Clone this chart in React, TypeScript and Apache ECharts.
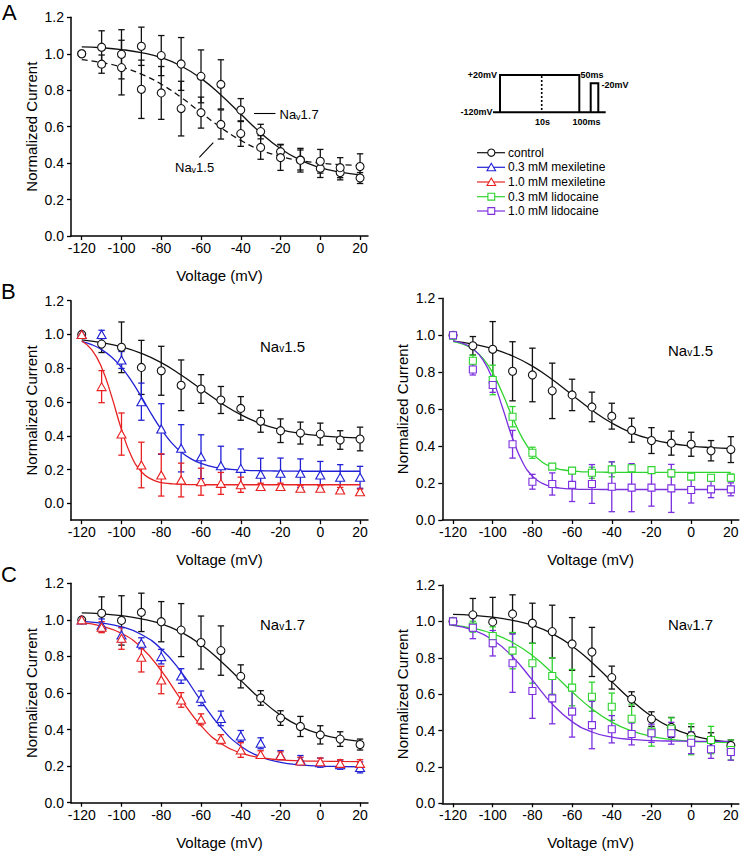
import React, { useEffect, useRef } from "react";
import * as echarts from "echarts";

const FONT = '"Liberation Sans", Arial, Helvetica, sans-serif';

// Voltages (mV)
const VOLT = [-120, -110, -100, -90, -80, -70, -60, -50, -40, -30, -20, -10, 0, 10, 20];
const VOLT5 = [-120, -115, -110, -105, -100, -95, -90, -85, -80, -75, -70, -65, -60, -55, -50, -45, -40, -35, -30, -25, -20, -15, -10, -5, 0, 5, 10, 15, 20];
const X_TICKS = [-120, -100, -80, -60, -40, -20, 0, 20];
const Y_TICKS = [0, 0.2, 0.4, 0.6, 0.8, 1.0, 1.2];

// Control Nav1.5
const nav15Ctrl = [1.0, 0.943, 0.924, 0.805, 0.785, 0.699, 0.677, 0.612, 0.562, 0.486, 0.43, 0.416, 0.41, 0.375, 0.381];
const nav15CtrlErr = [0, 0.05, 0.15, 0.16, 0.145, 0.15, 0.085, 0.08, 0.07, 0.065, 0.07, 0.065, 0.065, 0.055, 0.07];
const nav15CtrlFit = [0.968, 0.952, 0.927, 0.888, 0.833, 0.76, 0.677, 0.595, 0.525, 0.472, 0.437, 0.414, 0.4, 0.392, 0.387];

// Control Nav1.7
const nav17Ctrl = [1.0, 1.036, 0.997, 1.041, 0.99, 0.944, 0.876, 0.832, 0.691, 0.573, 0.463, 0.417, 0.371, 0.348, 0.318];
const nav17CtrlErr = [0, 0.09, 0.135, 0.105, 0.11, 0.145, 0.145, 0.135, 0.063, 0.04, 0.04, 0.055, 0.05, 0.04, 0.03];
const nav17CtrlFit = [1.038, 1.033, 1.023, 1.006, 0.979, 0.933, 0.865, 0.774, 0.669, 0.566, 0.479, 0.416, 0.375, 0.35, 0.335];

// Nav1.5 mexiletine
const mex03Nav15 = [1.0, 1.0, 0.849, 0.602, 0.44, 0.326, 0.276, 0.223, 0.207, 0.172, 0.178, 0.178, 0.168, 0.154, 0.154];
const mex03Nav15Err = [0, 0.025, 0.05, 0.11, 0.15, 0.14, 0.13, 0.115, 0.115, 0.095, 0.09, 0.085, 0.08, 0.075, 0.065];
const mex03Nav15Fit = [0.959, 0.94, 0.91, 0.866, 0.805, 0.725, 0.63, 0.53, 0.438, 0.361, 0.304, 0.263, 0.236, 0.219, 0.208, 0.201, 0.197, 0.194, 0.193, 0.192, 0.191, 0.191, 0.19, 0.19, 0.19, 0.19, 0.19, 0.19, 0.19];
const mex10Nav15 = [1.0, 0.691, 0.41, 0.227, 0.168, 0.138, 0.128, 0.118, 0.11, 0.099, 0.099, 0.089, 0.089, 0.079, 0.069];
const mex10Nav15Err = [0, 0.095, 0.125, 0.135, 0.125, 0.1, 0.08, 0.065, 0.045, 0.02, 0.02, 0.015, 0.015, 0.015, 0.015];
const mex10Nav15Fit = [0.961, 0.91, 0.805, 0.635, 0.437, 0.279, 0.187, 0.143, 0.123, 0.116, 0.112, 0.111, 0.11, 0.11, 0.11, 0.11, 0.11, 0.11, 0.11, 0.11, 0.11, 0.11, 0.11, 0.11, 0.11, 0.11, 0.11, 0.11, 0.11];

// Nav1.5 lidocaine
const lid03Nav15 = [0.998, 0.862, 0.758, 0.559, 0.364, 0.289, 0.267, 0.256, 0.274, 0.28, 0.27, 0.253, 0.235, 0.229, 0.229];
const lid03Nav15Err = [0, 0.03, 0.08, 0.055, 0.03, 0.015, 0.015, 0.03, 0.04, 0.015, 0.015, 0.02, 0.015, 0.015, 0.02];
const lid03Nav15Fit = [0.966, 0.952, 0.925, 0.876, 0.796, 0.683, 0.555, 0.442, 0.362, 0.313, 0.286, 0.272, 0.265, 0.261, 0.26, 0.259, 0.258, 0.258, 0.258, 0.258, 0.258, 0.258, 0.258, 0.258, 0.258, 0.258, 0.258, 0.258, 0.258];
const lid10Nav15 = [1.0, 0.815, 0.731, 0.41, 0.207, 0.195, 0.19, 0.195, 0.18, 0.175, 0.175, 0.171, 0.162, 0.166, 0.166];
const lid10Nav15Err = [0, 0.03, 0.04, 0.075, 0.04, 0.06, 0.09, 0.105, 0.135, 0.13, 0.1, 0.13, 0.07, 0.045, 0.035];
const lid10Nav15Fit = [0.97, 0.956, 0.927, 0.868, 0.761, 0.606, 0.442, 0.314, 0.237, 0.198, 0.18, 0.171, 0.168, 0.166, 0.166, 0.165, 0.165, 0.165, 0.165, 0.165, 0.165, 0.165, 0.165, 0.165, 0.165, 0.165, 0.165, 0.165, 0.165];

// Nav1.7 mexiletine
const mex03Nav17 = [1.0, 0.97, 0.917, 0.872, 0.799, 0.693, 0.571, 0.461, 0.365, 0.325, 0.26, 0.233, 0.219, 0.208, 0.193];
const mex03Nav17Err = [0, 0.035, 0.04, 0.03, 0.04, 0.04, 0.04, 0.04, 0.03, 0.03, 0.025, 0.025, 0.025, 0.025, 0.03];
const mex03Nav17Fit = [0.992, 0.982, 0.962, 0.92, 0.841, 0.715, 0.557, 0.412, 0.309, 0.251, 0.221, 0.207, 0.2, 0.198, 0.196];
const mex10Nav17 = [1.0, 0.96, 0.899, 0.795, 0.671, 0.562, 0.456, 0.347, 0.288, 0.264, 0.258, 0.228, 0.224, 0.215, 0.215];
const mex10Nav17Err = [0, 0.03, 0.06, 0.08, 0.075, 0.04, 0.03, 0.025, 0.04, 0.02, 0.02, 0.02, 0.02, 0.02, 0.02];
const mex10Nav17Fit = [0.985, 0.966, 0.926, 0.849, 0.722, 0.564, 0.421, 0.324, 0.272, 0.246, 0.234, 0.229, 0.227, 0.226, 0.225];

// Nav1.7 lidocaine
const lid03Nav17 = [1.0, 0.971, 0.92, 0.839, 0.77, 0.7, 0.636, 0.586, 0.531, 0.465, 0.394, 0.41, 0.352, 0.348, 0.293];
const lid03Nav17Err = [0, 0.03, 0.05, 0.1, 0.11, 0.1, 0.1, 0.08, 0.075, 0.08, 0.08, 0.06, 0.085, 0.075, 0.055];
const lid03Nav17Fit = [0.979, 0.962, 0.932, 0.884, 0.812, 0.717, 0.613, 0.519, 0.446, 0.398, 0.368, 0.351, 0.341, 0.336, 0.333];
const lid10Nav17 = [1.0, 0.965, 0.88, 0.77, 0.617, 0.577, 0.504, 0.43, 0.407, 0.381, 0.385, 0.385, 0.333, 0.297, 0.282];
const lid10Nav17Err = [0, 0.06, 0.07, 0.16, 0.15, 0.14, 0.14, 0.13, 0.075, 0.06, 0.05, 0.06, 0.06, 0.05, 0.045];
const lid10Nav17Fit = [0.978, 0.952, 0.899, 0.806, 0.677, 0.546, 0.449, 0.392, 0.364, 0.351, 0.345, 0.342, 0.341, 0.34, 0.34];

const LEGEND_NAMES = ["control", "0.3 mM mexiletine", "1.0 mM mexiletine", "0.3 mM lidocaine", "1.0 mM lidocaine"];

const BLACK = "#111111";
const BLUE = "#2121d6";
const RED = "#e82222";
const GREEN = "#2fd42f";
const PURPLE = "#7b2fdf";

const X_MIN = -125.4;
const X_MAX = 24;

function xAxisCfg(gi: number) {
  return {
    gridIndex: gi,
    type: "value",
    min: X_MIN,
    max: X_MAX,
    axisLine: { show: true, onZero: false, lineStyle: { color: "#000", width: 1.5 } },
    axisTick: { show: true, length: 4, customValues: X_TICKS, lineStyle: { color: "#000", width: 1.3 } },
    axisLabel: { customValues: X_TICKS, color: "#000", fontSize: 14, fontFamily: FONT, margin: 5 },
    splitLine: { show: false },
    name: "Voltage (mV)",
    nameLocation: "middle",
    nameGap: 32,
    nameTextStyle: { color: "#000", fontSize: 15, fontFamily: FONT },
  };
}

function yAxisCfg(gi: number, ymin: number) {
  return {
    gridIndex: gi,
    type: "value",
    min: ymin,
    max: 1.2,
    axisLine: { show: true, onZero: false, lineStyle: { color: "#000", width: 1.5 } },
    axisTick: { show: true, length: 4, customValues: Y_TICKS, lineStyle: { color: "#000", width: 1.3 } },
    axisLabel: {
      customValues: Y_TICKS,
      color: "#000",
      fontSize: 14,
      fontFamily: FONT,
      margin: 7,
      formatter: (v: number) => v.toFixed(1),
    },
    splitLine: { show: false },
    name: "Normalized Current",
    nameLocation: "middle",
    nameGap: 32,
    nameTextStyle: { color: "#000", fontSize: 15, fontFamily: FONT },
  };
}

function errSeries(gi: number, ys: number[], es: number[], color: string) {
  return {
    type: "custom",
    xAxisIndex: gi,
    yAxisIndex: gi,
    silent: true,
    z: 2,
    encode: { x: 0, y: 1 },
    data: VOLT.map((v, i) => [v, ys[i], es[i]]),
    renderItem: (params: any, api: any) => {
      const x = api.value(0);
      const y = api.value(1);
      const e = api.value(2);
      if (!e) return null;
      const top = api.coord([x, y + e]);
      const bot = api.coord([x, y - e]);
      const hw = 3.2;
      const style = { stroke: color, lineWidth: 1.3 };
      return {
        type: "group",
        children: [
          { type: "line", shape: { x1: top[0], y1: top[1], x2: bot[0], y2: bot[1] }, style },
          { type: "line", shape: { x1: top[0] - hw, y1: top[1], x2: top[0] + hw, y2: top[1] }, style },
          { type: "line", shape: { x1: bot[0] - hw, y1: bot[1], x2: bot[0] + hw, y2: bot[1] }, style },
        ],
      };
    },
  };
}

function fitSeries(gi: number, xs: number[], ys: number[], color: string, dashed = false) {
  return {
    type: "line",
    xAxisIndex: gi,
    yAxisIndex: gi,
    silent: true,
    z: 3,
    showSymbol: false,
    symbol: "none",
    smooth: 0.5,
    lineStyle: { color, width: 1.3, type: dashed ? [6, 4] : "solid" },
    data: xs.map((v, i) => [v, ys[i]]),
  };
}

function ptSeries(gi: number, ys: number[], color: string, symbol: string) {
  const size = symbol === "triangle" ? [9, 8] : symbol === "rect" ? 7 : 8;
  return {
    type: "scatter",
    xAxisIndex: gi,
    yAxisIndex: gi,
    silent: true,
    z: 4,
    symbol,
    symbolSize: size,
    itemStyle: { color: "#ffffff", borderColor: color, borderWidth: 1.1, opacity: 1 },
    data: VOLT.map((v, i) => [v, ys[i]]),
  };
}

function navLabel(x: number, y: number, suffix: string, size: number) {
  const sub = Math.round(size * 0.68);
  return {
    type: "text",
    x,
    y,
    silent: true,
    style: {
      text: `{a|Na}{s|v}{a|${suffix}}`,
      textAlign: "left",
      textVerticalAlign: "middle",
      rich: {
        a: { fontSize: size, fontFamily: FONT, fill: "#000", lineHeight: size + 2, verticalAlign: "bottom" },
        s: { fontSize: sub, fontFamily: FONT, fill: "#000", lineHeight: sub + 1, verticalAlign: "bottom" },
      },
    },
  };
}

function plainText(x: number, y: number, text: string, size: number, align = "left", bold = false) {
  return {
    type: "text",
    x,
    y,
    silent: true,
    style: {
      text,
      fontSize: size,
      fontFamily: FONT,
      fontWeight: bold ? "bold" : "normal",
      fill: "#000",
      textAlign: align,
      textVerticalAlign: "middle",
    },
  };
}

function legendItems() {
  const colors = [BLACK, BLUE, RED, GREEN, PURPLE];
  const syms = ["circle", "triangle", "triangle", "rect", "rect"];
  const rows = [152.7, 167.3, 182, 196.7, 211];
  const items: any[] = [];
  rows.forEach((cy, i) => {
    const c = colors[i];
    items.push({ type: "line", silent: true, shape: { x1: 477, y1: cy, x2: 505, y2: cy }, style: { stroke: c, lineWidth: 1.2 } });
    const cx = 491.3;
    if (syms[i] === "circle") {
      items.push({ type: "circle", silent: true, shape: { cx, cy, r: 3.6 }, style: { fill: "#fff", stroke: c, lineWidth: 1.1 } });
    } else if (syms[i] === "triangle") {
      items.push({
        type: "polygon",
        silent: true,
        shape: { points: [[cx, cy - 4], [cx - 4.3, cy + 3.5], [cx + 4.3, cy + 3.5]] },
        style: { fill: "#fff", stroke: c, lineWidth: 1.1 },
      });
    } else {
      items.push({ type: "rect", silent: true, shape: { x: cx - 3.4, y: cy - 3.4, width: 6.8, height: 6.8 }, style: { fill: "#fff", stroke: c, lineWidth: 1.1 } });
    }
    items.push(plainText(508, cy, LEGEND_NAMES[i], 12));
  });
  return items;
}

function protocolItems() {
  const s = { stroke: "#000", lineWidth: 2, fill: null };
  return [
    { type: "line", silent: true, shape: { x1: 493, y1: 112.3, x2: 605.7, y2: 112.3 }, style: s },
    { type: "polyline", silent: true, shape: { points: [[500, 112.3], [500, 75], [579.3, 75], [579.3, 112.3]] }, style: s },
    { type: "polyline", silent: true, shape: { points: [[590.7, 112.3], [590.7, 83.3], [598.3, 83.3], [598.3, 112.3]] }, style: s },
    { type: "line", silent: true, shape: { x1: 541.7, y1: 76, x2: 541.7, y2: 111.5 }, style: { stroke: "#000", lineWidth: 1.6, lineDash: [2, 2] } },
    plainText(497, 75, "+20mV", 9, "right", true),
    plainText(492.5, 112.3, "-120mV", 9, "right", true),
    plainText(580.5, 74.5, "50ms", 9, "left", true),
    plainText(601.5, 85, "-20mV", 9, "left", true),
    plainText(542.5, 121.7, "10s", 9, "center", true),
    plainText(586.5, 121.7, "100ms", 9, "center", true),
  ];
}

export default function App() {
  const ref = useRef<HTMLDivElement>(null);
  useEffect(() => {
    if (!ref.current) return;
    const chart = echarts.init(ref.current, undefined, { renderer: "svg" });
    const grids = [
      { left: 71, top: 17.3, width: 297, height: 218.7 },
      { left: 71, top: 300.7, width: 297, height: 219.5 },
      { left: 442.3, top: 298.3, width: 296.5, height: 221.7 },
      { left: 71, top: 583.3, width: 297, height: 219.4 },
      { left: 442.3, top: 585, width: 296.5, height: 218.3 },
    ];
    const yMins = [0, -0.1, 0, 0, 0];
    const series: any[] = [
      // A
      errSeries(0, nav17Ctrl, nav17CtrlErr, BLACK),
      errSeries(0, nav15Ctrl, nav15CtrlErr, BLACK),
      fitSeries(0, VOLT, nav17CtrlFit, BLACK),
      fitSeries(0, VOLT, nav15CtrlFit, BLACK, true),
      ptSeries(0, nav17Ctrl, BLACK, "circle"),
      ptSeries(0, nav15Ctrl, BLACK, "circle"),
      // B left
      errSeries(1, nav15Ctrl, nav15CtrlErr, BLACK),
      errSeries(1, mex03Nav15, mex03Nav15Err, BLUE),
      errSeries(1, mex10Nav15, mex10Nav15Err, RED),
      fitSeries(1, VOLT, nav15CtrlFit, BLACK),
      fitSeries(1, VOLT5, mex03Nav15Fit, BLUE),
      fitSeries(1, VOLT5, mex10Nav15Fit, RED),
      ptSeries(1, nav15Ctrl, BLACK, "circle"),
      ptSeries(1, mex03Nav15, BLUE, "triangle"),
      ptSeries(1, mex10Nav15, RED, "triangle"),
      // B right
      errSeries(2, nav15Ctrl, nav15CtrlErr, BLACK),
      errSeries(2, lid03Nav15, lid03Nav15Err, GREEN),
      errSeries(2, lid10Nav15, lid10Nav15Err, PURPLE),
      fitSeries(2, VOLT, nav15CtrlFit, BLACK),
      fitSeries(2, VOLT5, lid03Nav15Fit, GREEN),
      fitSeries(2, VOLT5, lid10Nav15Fit, PURPLE),
      ptSeries(2, nav15Ctrl, BLACK, "circle"),
      ptSeries(2, lid03Nav15, GREEN, "rect"),
      ptSeries(2, lid10Nav15, PURPLE, "rect"),
      // C left
      errSeries(3, nav17Ctrl, nav17CtrlErr, BLACK),
      errSeries(3, mex03Nav17, mex03Nav17Err, BLUE),
      errSeries(3, mex10Nav17, mex10Nav17Err, RED),
      fitSeries(3, VOLT, nav17CtrlFit, BLACK),
      fitSeries(3, VOLT, mex03Nav17Fit, BLUE),
      fitSeries(3, VOLT, mex10Nav17Fit, RED),
      ptSeries(3, nav17Ctrl, BLACK, "circle"),
      ptSeries(3, mex03Nav17, BLUE, "triangle"),
      ptSeries(3, mex10Nav17, RED, "triangle"),
      // C right
      errSeries(4, nav17Ctrl, nav17CtrlErr, BLACK),
      errSeries(4, lid03Nav17, lid03Nav17Err, GREEN),
      errSeries(4, lid10Nav17, lid10Nav17Err, PURPLE),
      fitSeries(4, VOLT, nav17CtrlFit, BLACK),
      fitSeries(4, VOLT, lid03Nav17Fit, GREEN),
      fitSeries(4, VOLT, lid10Nav17Fit, PURPLE),
      ptSeries(4, nav17Ctrl, BLACK, "circle"),
      ptSeries(4, lid03Nav17, GREEN, "rect"),
      ptSeries(4, lid10Nav17, PURPLE, "rect"),
    ];
    const graphics: any[] = [
      plainText(2, 12, "A", 22),
      plainText(1, 291, "B", 22),
      plainText(1, 574, "C", 22),
      // annotations in A
      { type: "line", silent: true, shape: { x1: 254, y1: 113.5, x2: 275.5, y2: 113.5 }, style: { stroke: "#000", lineWidth: 1.1 } },
      navLabel(279.5, 113.5, "1.7", 13),
      { type: "line", silent: true, shape: { x1: 199.3, y1: 157.3, x2: 213.3, y2: 142.7 }, style: { stroke: "#000", lineWidth: 1.1 } },
      navLabel(175, 166.5, "1.5", 13),
      // panel labels
      navLabel(260, 345, "1.5", 15),
      navLabel(668, 349, "1.5", 15),
      navLabel(260, 623, "1.7", 15),
      navLabel(668, 623, "1.7", 15),
      ...protocolItems(),
      ...legendItems(),
    ];
    chart.setOption({
      animation: false,
      textStyle: { fontFamily: FONT },
      grid: grids,
      xAxis: grids.map((_, i) => xAxisCfg(i)),
      yAxis: grids.map((_, i) => yAxisCfg(i, yMins[i])),
      series,
      graphic: graphics,
    });
    return () => chart.dispose();
  }, []);
  return <div ref={ref} style={{ position: "absolute", left: 0, top: 0, width: 745, height: 852, background: "#fff" }} />;
}
